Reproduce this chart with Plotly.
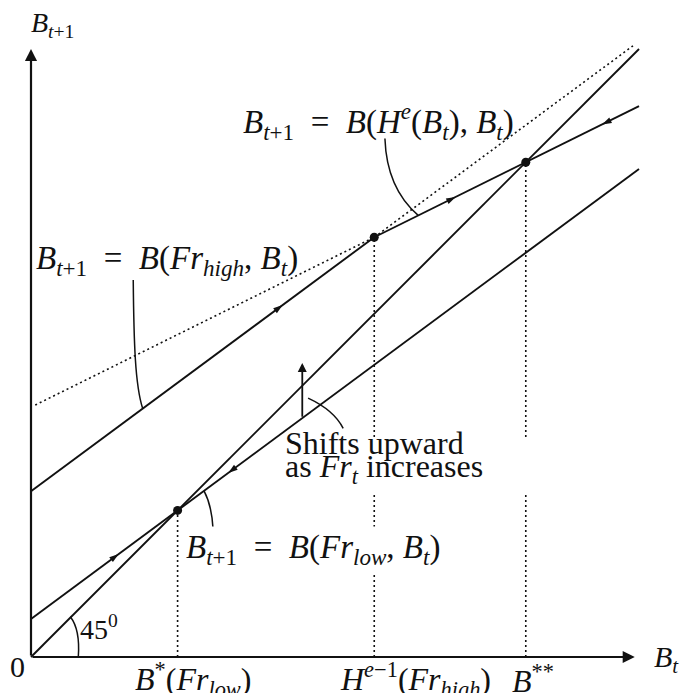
import math
import plotly.graph_objects as go

# ---- model: linear maps B_{t+1} = a + b * B_t (arbitrary units) ----
curve_names = ["Fr_low", "Fr_high", "He"]
intercepts = [0.63, 2.74, 4.13]
slopes = [0.74, 0.74, 0.495]

X_END = 10.05        # right end of the curves
AXIS_X_END = 9.98
AXIS_Y_END = 10.05
HE_DOT_START = 0.07
FR_HIGH_DOT_END = 9.95

# direction markers: curve, B_t position, direction (+1 rising, -1 falling)
arrow_curve = ["Fr_low", "Fr_low", "Fr_high", "He", "He"]
arrow_x = [1.45, 3.26, 4.16, 7.02, 9.44]
arrow_dir = [1, -1, 1, 1, -1]

# leader curves from labels to curves (cubic / quadratic control points)
lead_he = [(5.85, 8.57), (5.87, 8.0), (6.05, 7.6), (6.40, 7.30)]
lead_high = [(1.69, 6.23), (1.70, 5.2), (1.72, 4.5), (1.846, 4.106)]
lead_low = [(3.01, 2.11), (2.99, 2.50), (2.86, 2.746)]
lead_shift = [(5.16, 3.78), (5.01, 4.08), (4.58, 4.28)]
arc_45 = [(0.782, 0.0), (0.80, 0.25), (0.78, 0.50), (0.65, 0.666)]
SHIFT_X = 4.484
SHIFT_TIP = 4.86

a = dict(zip(curve_names, intercepts))
b = dict(zip(curve_names, slopes))


def f(name, x):
    return a[name] + b[name] * x


# equilibria and switching point
b_star = a["Fr_low"] / (1 - b["Fr_low"])
b_2star = a["He"] / (1 - b["He"])
h_x = (a["He"] - a["Fr_high"]) / (b["Fr_high"] - b["He"])

BLACK = "#111111"
FONT = "Liberation Serif"
FS_EQ = 33
FS_TXT = 32

fig = go.Figure()


def seg(name, x0, x1, dash=None, width=1.9):
    fig.add_trace(go.Scatter(
        x=[x0, x1], y=[f(name, x0), f(name, x1)], mode="lines",
        line=dict(color=BLACK, width=width, dash=dash), hoverinfo="skip"))


# 45 degree line
fig.add_trace(go.Scatter(x=[0, X_END], y=[0, X_END], mode="lines",
                         line=dict(color=BLACK, width=1.9), hoverinfo="skip"))
seg("Fr_low", 0, X_END)
seg("Fr_high", 0, h_x)
seg("Fr_high", h_x, FR_HIGH_DOT_END, dash="2px,3px", width=1.6)
seg("He", HE_DOT_START, h_x, dash="2px,3px", width=1.6)
seg("He", h_x, X_END)

# direction arrowheads
ax_, ay_, ang = [], [], []
for c, x, d in zip(arrow_curve, arrow_x, arrow_dir):
    ax_.append(x)
    ay_.append(f(c, x))
    deg = 90 - math.degrees(math.atan(b[c]))
    ang.append(deg if d > 0 else deg + 180)
fig.add_trace(go.Scatter(x=ax_, y=ay_, mode="markers",
                         marker=dict(symbol="arrow", size=10, angle=ang,
                                     color=BLACK, line=dict(width=0)),
                         hoverinfo="skip"))

# equilibrium dots
dots_x = [b_star, h_x, b_2star]
dots_y = [b_star, f("Fr_high", h_x), b_2star]
fig.add_trace(go.Scatter(x=dots_x, y=dots_y, mode="markers",
                         marker=dict(size=9, color=BLACK), hoverinfo="skip"))

shapes = []
# dotted drop lines (kept beneath the curves)
for x, y in zip(dots_x, dots_y):
    shapes.append(dict(type="line", xref="x", yref="y", x0=x, x1=x, y0=0, y1=y,
                       layer="below", line=dict(color=BLACK, width=1.6, dash="2px,3px")))
# white gap in the drop lines behind the "Shifts upward" note
shapes.append(dict(type="rect", xref="x", yref="y", x0=5.4, x1=8.5, y0=2.68, y1=3.62,
                   layer="below", fillcolor="white", line=dict(width=0)))


def cubic(p):
    return "M {} {} C {} {}, {} {}, {} {}".format(*[v for pt in p for v in pt])


def quad(p):
    return "M {} {} Q {} {}, {} {}".format(*[v for pt in p for v in pt])


for path in [cubic(lead_he), cubic(lead_high), quad(lead_low), quad(lead_shift), cubic(arc_45)]:
    shapes.append(dict(type="path", xref="x", yref="y", path=path,
                       line=dict(color=BLACK, width=1.5)))

ann = []
# axes with arrowheads
ann.append(dict(x=AXIS_X_END, y=0, ax=0, ay=0, xref="x", yref="y", axref="x", ayref="y",
                text="", showarrow=True, arrowhead=2, arrowsize=1.1, arrowwidth=2.2,
                arrowcolor=BLACK))
ann.append(dict(x=0, y=AXIS_Y_END, ax=0, ay=0, xref="x", yref="y", axref="x", ayref="y",
                text="", showarrow=True, arrowhead=2, arrowsize=1.1, arrowwidth=2.2,
                arrowcolor=BLACK))
# upward-shift arrow
ann.append(dict(x=SHIFT_X, y=SHIFT_TIP, ax=SHIFT_X, ay=f("Fr_low", SHIFT_X),
                xref="x", yref="y", axref="x", ayref="y", text="", showarrow=True,
                arrowhead=2, arrowsize=1.0, arrowwidth=1.8, arrowcolor=BLACK))


def label(x, y, text, xanchor="center", size=FS_EQ, bg=None):
    d = dict(x=x, y=y, xref="x", yref="y", text=text, showarrow=False,
             xanchor=xanchor, yanchor="middle",
             font=dict(family=FONT, size=size, color=BLACK))
    if bg:
        d.update(bgcolor=bg, borderpad=2)
    ann.append(d)


EQ = "\u2002=\u2002"
BT1 = "<i>B</i><sub><i>t</i>+1</sub>"
BT = "<i>B</i><sub><i>t</i></sub>"
label(0.35, 10.45, BT1, size=28)
label(10.26, -0.03, BT, xanchor="left", size=30)
label(-0.215, -0.165, "0", size=30)
label(1.12, 0.48, "45<sup>0</sup>", size=28)
label(2.68, -0.37, "<i>B</i><sup>*</sup>(<i>Fr</i><sub><i>low</i></sub>)", size=32)
label(6.36, -0.37, "<i>H</i><sup><i>e</i>−1</sup>(<i>Fr</i><sub><i>high</i></sub>)", size=32)
label(8.30, -0.37, "<i>B</i><sup>**</sup>", size=32)
label(8.02, 8.86, BT1 + EQ + "<i>B</i>(<i>H</i><sup><i>e</i></sup>(" + BT + "), " + BT + ")",
      xanchor="right")
label(0.05, 6.56, BT1 + EQ + "<i>B</i>(<i>Fr</i><sub><i>high</i></sub>, " + BT + ")",
      xanchor="left")
label(2.51, 1.78, BT1 + EQ + "<i>B</i>(<i>Fr</i><sub><i>low</i></sub>, " + BT + ")",
      xanchor="left", bg="white")
label(4.165, 3.54, "Shifts upward", xanchor="left", size=FS_TXT)
label(4.165, 3.12, "as <i>Fr</i><sub><i>t</i></sub> increases", xanchor="left", size=FS_TXT)

fig.update_layout(
    width=683, height=693, margin=dict(l=0, r=0, t=0, b=0),
    paper_bgcolor="white", plot_bgcolor="white", showlegend=False,
    xaxis=dict(range=[-0.5124, 10.777], visible=False, fixedrange=True),
    yaxis=dict(range=[-0.595, 10.860], visible=False, fixedrange=True),
    shapes=shapes, annotations=ann,
)

fig.write_html("out.html")
